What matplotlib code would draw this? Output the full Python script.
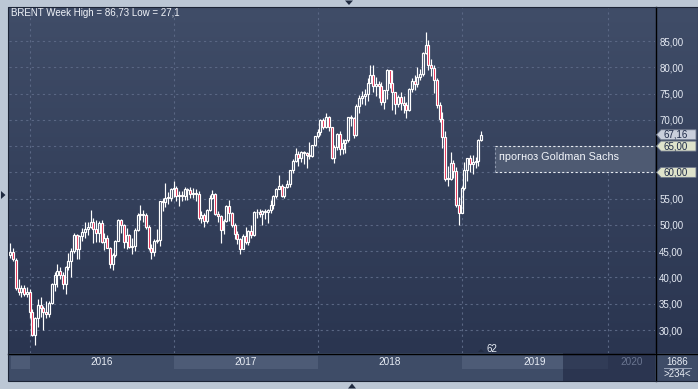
import numpy as np
import matplotlib
matplotlib.use('Agg')
import matplotlib.pyplot as plt
from matplotlib.patches import Rectangle, Polygon
from matplotlib.colors import LinearSegmentedColormap
import matplotlib.transforms as mtrans
from matplotlib.lines import Line2D

plt.rcParams['font.family'] = ['Liberation Sans', 'DejaVu Sans']

# ---------------- data (weekly BRENT OHLC) ----------------
opens = [
    44.3, 44.9, 43.4, 38.0, 37.2, 38.0, 36.8, 37.3, 33.5, 29.0,
    32.2, 34.7, 34.1, 33.4, 33.0, 35.1, 38.7, 40.4, 41.2, 40.4,
    38.7, 41.9, 43.1, 45.1, 48.1, 45.4, 47.8, 48.7, 49.3, 49.6,
    50.5, 49.2, 48.4, 50.4, 46.8, 47.6, 45.7, 42.5, 44.3, 47.0,
    50.9, 49.9, 46.8, 48.0, 45.8, 45.9, 49.1, 51.9, 52.0, 51.8,
    49.7, 45.6, 44.8, 46.9, 47.2, 54.5, 54.3, 55.2, 55.1, 56.8,
    57.1, 55.5, 55.6, 55.5, 56.8, 56.7, 55.8, 56.0, 55.9, 51.4,
    51.8, 50.8, 52.8, 55.2, 55.9, 52.0, 51.7, 49.1, 50.8, 53.6,
    52.2, 50.0, 48.2, 47.4, 45.5, 47.9, 46.7, 48.9, 48.1, 52.5,
    52.4, 52.1, 52.7, 52.4, 52.8, 53.8, 55.6, 56.9, 57.5, 55.6,
    57.2, 57.8, 60.4, 62.1, 63.5, 62.7, 63.9, 63.7, 63.4, 63.2,
    65.2, 66.9, 67.6, 69.9, 68.6, 70.5, 68.6, 62.8, 64.8, 67.3,
    64.4, 65.5, 66.2, 70.5, 70.3, 67.1, 72.6, 74.1, 74.6, 74.9,
    77.1, 78.5, 76.4, 76.8, 76.5, 73.4, 75.6, 79.4, 77.1, 75.3,
    73.1, 74.3, 73.2, 72.8, 71.8, 75.8, 77.4, 76.8, 78.1, 78.8,
    82.7, 84.2, 80.4, 79.8, 77.6, 72.8, 70.2, 66.8, 58.8, 58.7,
    61.7, 60.3, 53.8, 52.2, 57.1, 60.5, 62.7, 61.6, 61.9, 62.1,
    66.2,
]
highs = [
    46.6, 45.6, 43.8, 39.7, 38.6, 38.5, 38.2, 37.9, 34.0, 32.5,
    36.0, 36.3, 34.6, 35.6, 35.6, 38.9, 41.0, 42.5, 42.0, 41.0,
    42.1, 44.7, 45.6, 48.5, 48.3, 48.1, 49.5, 50.5, 50.5, 52.9,
    51.4, 51.0, 50.8, 50.9, 48.5, 48.0, 45.8, 44.6, 47.1, 51.2,
    51.2, 50.1, 49.5, 48.3, 47.6, 49.5, 52.3, 53.7, 52.8, 52.2,
    50.0, 46.4, 47.3, 49.2, 54.5, 55.1, 57.9, 56.2, 57.0, 58.4,
    57.5, 56.5, 56.5, 57.2, 57.0, 57.3, 57.1, 56.8, 56.4, 52.6,
    52.3, 53.1, 55.7, 56.7, 56.0, 52.6, 51.8, 51.1, 53.8, 54.7,
    52.4, 50.4, 48.9, 47.5, 48.3, 49.7, 49.1, 49.9, 52.6, 53.0,
    53.1, 52.8, 53.0, 53.1, 54.7, 55.7, 57.0, 59.5, 57.8, 57.2,
    58.5, 60.5, 62.5, 64.7, 64.0, 64.0, 64.0, 63.9, 65.8, 65.3,
    67.0, 68.3, 70.1, 70.4, 71.3, 70.7, 68.6, 65.2, 67.5, 67.9,
    66.4, 66.4, 70.6, 71.0, 70.5, 73.1, 74.8, 75.5, 75.9, 78.0,
    80.5, 80.4, 78.1, 77.3, 77.2, 75.6, 79.6, 79.4, 79.4, 75.3,
    74.8, 75.3, 74.6, 73.3, 76.0, 78.0, 78.6, 80.1, 79.6, 82.9,
    86.73, 85.1, 81.5, 80.4, 78.0, 73.4, 71.4, 67.8, 61.3, 63.8,
    62.3, 61.1, 55.4, 57.4, 61.9, 62.8, 63.4, 63.3, 63.0, 66.3,
    67.9,
]
lows = [
    43.7, 43.2, 37.6, 36.7, 36.2, 36.4, 36.3, 32.2, 28.8, 27.1,
    30.5, 32.5, 30.0, 32.2, 32.5, 34.9, 37.5, 38.1, 39.7, 37.8,
    36.8, 41.4, 40.1, 44.6, 43.6, 43.5, 47.0, 47.6, 48.1, 49.4,
    46.6, 46.8, 46.7, 46.5, 45.2, 45.6, 41.8, 41.5, 43.9, 46.9,
    48.4, 45.6, 45.5, 45.6, 44.5, 45.1, 48.8, 51.0, 50.5, 49.3,
    45.2, 43.6, 44.1, 46.5, 46.0, 52.7, 53.5, 53.9, 54.5, 55.3,
    54.6, 53.6, 54.5, 54.8, 54.7, 55.2, 55.2, 54.6, 51.0, 50.3,
    49.7, 50.3, 52.6, 55.0, 51.8, 50.6, 46.6, 48.2, 50.5, 50.7,
    49.6, 47.4, 46.4, 44.4, 45.4, 46.4, 46.2, 47.5, 47.9, 51.4,
    51.6, 49.9, 51.2, 50.4, 52.3, 53.1, 55.2, 56.8, 55.3, 55.1,
    57.0, 57.2, 59.9, 62.0, 61.3, 62.0, 61.5, 60.9, 62.5, 63.0,
    65.0, 66.5, 67.2, 68.2, 68.5, 67.8, 62.5, 61.8, 64.2, 63.4,
    63.5, 63.7, 65.8, 68.8, 66.6, 67.0, 71.3, 73.1, 72.8, 73.6,
    77.0, 75.3, 74.5, 74.1, 72.9, 72.1, 73.9, 76.1, 71.8, 71.1,
    72.4, 71.9, 71.3, 70.3, 71.6, 75.3, 75.6, 76.3, 77.5, 78.4,
    82.6, 79.4, 78.4, 75.1, 72.2, 69.5, 64.6, 58.4, 57.5, 58.6,
    59.0, 53.5, 50.0, 52.2, 56.6, 58.4, 60.0, 59.7, 60.9, 61.3,
    65.9,
]
closes = [
    44.9, 43.5, 38.0, 37.2, 38.0, 36.8, 37.3, 33.5, 29.0, 32.2,
    34.7, 34.1, 33.4, 33.0, 35.1, 38.7, 40.4, 41.2, 40.4, 38.7,
    41.9, 43.1, 45.1, 48.1, 45.4, 47.8, 48.7, 49.3, 49.6, 50.5,
    49.2, 48.4, 50.4, 46.8, 47.6, 45.7, 42.5, 44.3, 47.0, 50.9,
    49.9, 46.8, 48.0, 45.8, 45.9, 49.1, 51.9, 52.0, 51.8, 49.7,
    45.6, 44.8, 46.9, 47.2, 54.5, 54.3, 55.2, 55.1, 56.8, 57.1,
    55.5, 55.6, 55.5, 56.8, 56.7, 55.8, 56.0, 55.9, 51.4, 51.8,
    50.8, 52.8, 55.2, 55.9, 52.0, 51.7, 49.1, 50.8, 53.6, 52.2,
    50.0, 48.2, 47.4, 45.5, 47.9, 46.7, 48.9, 48.1, 52.5, 52.4,
    52.1, 52.7, 52.4, 52.8, 53.8, 55.6, 56.9, 57.5, 55.6, 57.2,
    57.8, 60.4, 62.1, 63.5, 62.7, 63.9, 63.7, 63.4, 63.2, 65.2,
    66.9, 67.6, 69.9, 68.6, 70.5, 68.6, 62.8, 64.8, 67.3, 64.4,
    65.5, 66.2, 70.5, 70.3, 67.1, 72.6, 74.1, 74.6, 74.9, 77.1,
    78.5, 76.4, 76.8, 76.5, 73.4, 75.6, 79.4, 77.1, 75.3, 73.1,
    74.3, 73.2, 72.8, 71.8, 75.8, 77.4, 76.8, 78.1, 78.8, 82.7,
    84.2, 80.4, 79.8, 77.6, 72.8, 70.2, 66.8, 58.8, 58.7, 61.7,
    60.3, 53.8, 52.2, 57.1, 60.5, 62.7, 61.6, 61.9, 62.1, 66.2,
    67.16,
]

year_labels = ['2016', '2017', '2018', '2019', '2020']
year_start_bars = [7, 59, 111, 163, 216]
price_ticks = [30, 35, 40, 45, 50, 55, 60, 65, 70, 75, 80, 85]
last_price = 67.16
forecast_low, forecast_high = 60.0, 65.0
forecast_label = 'прогноз Goldman Sachs'
title_text = 'BRENT Week High = 86,73 Low = 27,1'
bars_label = '62'
counter_top, counter_bottom = '1686', '>234<'

# ---------------- layout ----------------
W, H = 698, 389
fig = plt.figure(figsize=(W / 100, H / 100), dpi=100)
fig.patch.set_facecolor('#bcc7d5')


def fr(x0, y0, x1, y1):
    return [x0 / W, 1 - y1 / H, (x1 - x0) / W, (y1 - y0) / H]


def fx(x):
    return x / W


def fy(y):
    return 1 - y / H


X0, X1 = -0.45, 232.8
Y0, Y1 = 25.63, 91.28

# background gradient panel (plot + right price panel)
bg = fig.add_axes(fr(8, 7, 698, 353), zorder=0)
grad = np.linspace(0, 1, 256).reshape(-1, 1)
cmap = LinearSegmentedColormap.from_list('bg', ['#404d68', '#2a3550'])
bg.imshow(grad, aspect='auto', cmap=cmap, extent=[0, 1, 0, 1], origin='upper')
bg.axis('off')

ax = fig.add_axes(fr(9, 8, 655, 353), zorder=2)
ax.set_facecolor('none')
ax.set_xlim(X0, X1)
ax.set_ylim(Y0, Y1)
for s in ax.spines.values():
    s.set_visible(False)

tagged = {forecast_low, forecast_high}
ax.set_xticks(year_start_bars)
ax.set_yticks(price_ticks)
ax.yaxis.tick_right()
ax.set_yticklabels(['' if v in tagged else f'{v:.2f}'.replace('.', ',') for v in price_ticks])
ax.tick_params(axis='x', length=0, labelbottom=False)
ax.tick_params(axis='y', length=0, pad=3, labelsize=7, labelcolor='#e6ebf4')
ax.grid(True, color='#5a6784', linestyle=(0, (2, 3)), linewidth=0.8)
ax.set_axisbelow(True)

# forecast box
ax.add_patch(Rectangle((175, forecast_low), X1 - 175, forecast_high - forecast_low,
                       facecolor='#4e5a72', edgecolor='none', zorder=1.5))
ax.hlines([forecast_low, forecast_high], 175, X1, colors='#e8ecf2',
          linestyles=(0, (2, 2)), linewidth=0.8, zorder=1.6)
ax.vlines(175, forecast_low, forecast_high, colors='#8d97ac',
          linestyles=(0, (2, 2)), linewidth=0.8, zorder=1.6)
ax.text(176.6, 62.9, forecast_label, color='#f2f5fa', fontsize=7.8,
        va='center', ha='left', zorder=3)

# candles
o = np.array(opens)
h = np.array(highs)
l = np.array(lows)
c = np.array(closes)
x = np.arange(len(o))
up = c >= o
lo_body = np.minimum(o, c)
hi_body = np.maximum(o, c)
ax.vlines(x, l, lo_body, colors='white', linewidth=0.85, zorder=3)
ax.vlines(x, hi_body, h, colors='white', linewidth=0.85, zorder=3)
body_h = np.maximum(hi_body - lo_body, 0.15)
faces = ['none' if u else '#e3173e' for u in up]
ax.bar(x, body_h, bottom=lo_body, width=0.72, color=faces,
       edgecolor='white', linewidth=0.85, zorder=4)

# ---------------- bottom date band ----------------
band = fig.add_axes(fr(9, 353, 655, 381), zorder=1)
band.set_facecolor('#3e4c67')
band.set_xlim(X0, X1)
band.set_ylim(0, 28)
band.axis('off')
band.add_patch(Rectangle((X0, 0), X1 - X0, 28, facecolor='#3e4c67', edgecolor='none'))
future_start = 199.6
spans = [(0.3, year_start_bars[0])] + [
    (year_start_bars[i], year_start_bars[i + 1]) for i in range(len(year_start_bars) - 1)]
for i, (a, b) in enumerate(spans):
    if i % 2 == 0:
        band.add_patch(Rectangle((a, 12), min(b, future_start) - a, 13,
                                 facecolor='#4d5b76', edgecolor='none'))
band.add_patch(Rectangle((future_start, 0), X1 - future_start, 28,
                         facecolor='#2b3550', edgecolor='none'))
band.add_patch(Rectangle((future_start, 12), year_start_bars[-1] - future_start, 13,
                         facecolor='#313c57', edgecolor='none'))
bounds = year_start_bars + [X1]
for i, lab in enumerate(year_labels):
    cx = (bounds[i] + bounds[i + 1]) / 2
    col = '#6a7590' if i == len(year_labels) - 1 else '#e8edf5'
    band.text(cx, 19, lab, color=col, fontsize=7.2, ha='center', va='center')

# ---------------- figure decorations ----------------
# bottom-right counter box
fig.patches.append(Rectangle((fx(655), fy(381)), fx(698) - fx(655), fy(353) - fy(381),
                             transform=fig.transFigure, facecolor='#3e4c67',
                             edgecolor='none', zorder=1))
fig.text(fx(677), fy(362), counter_top, color='#e8edf5', fontsize=7, ha='center', va='center')
fig.text(fx(677), fy(374), counter_bottom, color='#e8edf5', fontsize=7, ha='center', va='center')
fig.lines.append(Line2D([fx(664), fx(691)], [fy(368), fy(368)], transform=fig.transFigure,
                        color='#9aa5ba', linewidth=0.7))

# black separator lines
fig.lines.append(Line2D([fx(655.5), fx(655.5)], [fy(7), fy(381)], transform=fig.transFigure,
                        color='black', linewidth=1.0, zorder=5))
fig.lines.append(Line2D([fx(8), fx(698)], [fy(353.5), fy(353.5)], transform=fig.transFigure,
                        color='black', linewidth=1.0, zorder=5))
# panel outline
fig.patches.append(Rectangle((fx(8), fy(381)), fx(698) - fx(8), fy(7) - fy(381),
                             transform=fig.transFigure, facecolor='none',
                             edgecolor='#1c2436', linewidth=0.8, zorder=5))

# title
fig.text(fx(11), fy(12.5), title_text, color='#f2f5fa', fontsize=7.0, ha='left', va='center')

# bar counter marker near the last bar
fig.text(fx(492), fy(349), bars_label, color='#e8edf5', fontsize=7, ha='center', va='center')
fig.patches.append(Polygon([(fx(478), fy(352)), (fx(484), fy(352)), (fx(481), fy(349))],
                           closed=True, transform=fig.transFigure,
                           facecolor='#222c42', edgecolor='none', zorder=4))

# price tags on the right axis
tr = mtrans.blended_transform_factory(fig.transFigure, ax.transData)
tag_h = 1.9
for val, face in [(last_price, '#c9cfdc'), (forecast_high, '#dfe3cb'), (forecast_low, '#dfe3cb')]:
    pts = [(fx(656.5), val), (fx(661), val + tag_h / 2), (fx(696), val + tag_h / 2),
           (fx(696), val - tag_h / 2), (fx(661), val - tag_h / 2)]
    fig.patches.append(Polygon(pts, closed=True, transform=tr, facecolor=face,
                               edgecolor='#6d778b', linewidth=0.6, zorder=6))
    fig.text(fx(663), val, f'{val:.2f}'.replace('.', ','), transform=tr, color='#1d2947',
             fontsize=7, ha='left', va='center', zorder=7)

# UI scroll arrows
ui = '#1f2a40'
fig.patches.append(Polygon([(fx(345), fy(0.5)), (fx(353), fy(0.5)), (fx(349), fy(5))],
                           closed=True, transform=fig.transFigure, facecolor=ui, edgecolor='none'))
fig.patches.append(Polygon([(fx(348), fy(388.5)), (fx(356), fy(388.5)), (fx(352), fy(383.5))],
                           closed=True, transform=fig.transFigure, facecolor=ui, edgecolor='none'))
fig.patches.append(Polygon([(fx(1), fy(191)), (fx(1), fy(199)), (fx(5.5), fy(195))],
                           closed=True, transform=fig.transFigure, facecolor=ui, edgecolor='none'))

fig.savefig('out.png', dpi=100, facecolor=fig.get_facecolor())
